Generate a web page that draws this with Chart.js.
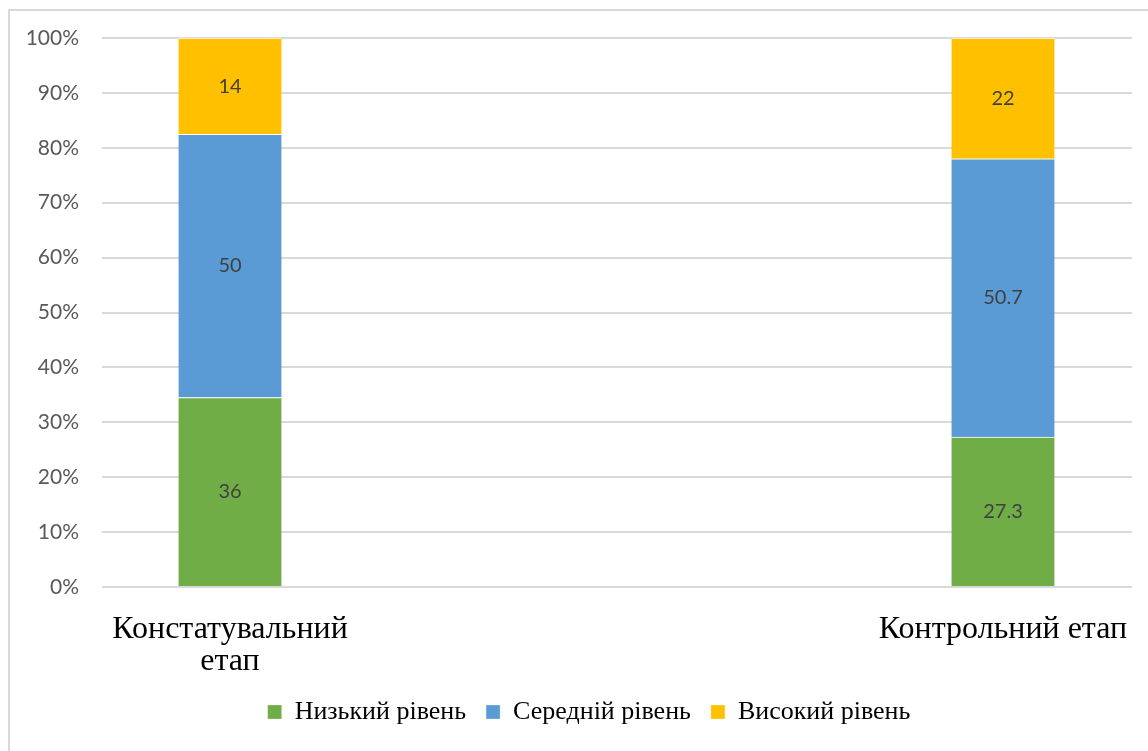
<!DOCTYPE html>
<html>
<head>
<meta charset="utf-8">
<script src="https://cdn.jsdelivr.net/npm/chart.js@4"></script>
<style>
  html, body { margin: 0; padding: 0; background: #fff; }
  #wrap { position: relative; width: 1148px; height: 751px; overflow: hidden; }
  #frame {
    position: absolute; left: 8px; top: 9px; width: 1200px; height: 800px;
    border: 2px solid #d9d9d9; pointer-events: none;
  }
  canvas { position: absolute; left: 0; top: 0; }
</style>
</head>
<body>
<div id="wrap">
  <canvas id="levelsChart" width="1148" height="751"></canvas>
  <div id="frame"></div>
</div>
<script>
// Етапи експерименту та рівні
const stages = [["Констатувальний", "етап"], "Контрольний етап"];
const levelNames = ["Низький рівень", "Середній рівень", "Високий рівень"];
// висота сегментів (як видно на малюнку, 100% нормування)
const lowLevel = [36, 27.3];
const midLevel = [50, 50.7];
const highLevel = [18.3, 22];
// підписи, що надруковані на стовпчиках
const lowText = ["36", "27.3"];
const midText = ["50", "50.7"];
const highText = ["14", "22"];
const levelColors = ["#70AD47", "#5B9BD5", "#FFC000"];
const yTicks = [0, 10, 20, 30, 40, 50, 60, 70, 80, 90, 100];

const allLevels = [lowLevel, midLevel, highLevel];
const allTexts = [lowText, midText, highText];

// Частка кожного рівня у стовпчику (100% stacked)
function toShares(values) {
  return values.map(function (v, i) {
    const total = lowLevel[i] + midLevel[i] + highLevel[i];
    return { x: i, y: (v / total) * 100 };
  });
}

// Підписи значень по центру кожного сегмента
const segmentLabels = {
  id: "segmentLabels",
  afterDatasetsDraw(chart) {
    const ctx = chart.ctx;
    ctx.save();
    ctx.font = "20px Lato";
    ctx.fillStyle = "#404040";
    ctx.textAlign = "center";
    ctx.textBaseline = "middle";
    chart.data.datasets.forEach(function (ds, di) {
      chart.getDatasetMeta(di).data.forEach(function (bar, i) {
        const mid = (bar.y + bar.base) / 2;
        ctx.fillText(allTexts[di][i], bar.x, mid);
      });
    });
    ctx.restore();
  },
};

// Легенду трохи зсуваємо праворуч, як в оригіналі
const legendShift = {
  id: "legendShift",
  afterLayout(chart) {
    if (chart.legend) {
      chart.legend.left += 23;
      chart.legend.right += 23;
    }
  },
};

new Chart(document.getElementById("levelsChart"), {
  type: "bar",
  data: {
    datasets: allLevels.map(function (values, k) {
      return {
        label: levelNames[k],
        data: toShares(values),
        backgroundColor: levelColors[k],
        borderColor: "#ffffff",
        borderWidth: { top: 1, bottom: 0, left: 0, right: 0 },
        borderSkipped: false,
        barThickness: 103,
      };
    }),
  },
  options: {
    responsive: false,
    animation: false,
    layout: { padding: { top: 38, right: 16, bottom: 16, left: 0 } },
    scales: {
      x: {
        type: "linear",
        stacked: true,
        offset: false,
        min: -0.1656,
        max: 1.1669,
        afterBuildTicks(scale) {
          scale.ticks = stages.map(function (s, i) {
            return { value: i };
          });
        },
        afterFit(scale) {
          scale.height = 92;
          scale.paddingLeft = 0;
          scale.paddingRight = 0;
        },
        grid: { display: false, drawTicks: false },
        border: { display: false },
        ticks: {
          autoSkip: false,
          maxRotation: 0,
          padding: 26,
          color: "#000000",
          font: { family: "Liberation Serif", size: 32, lineHeight: 1.02 },
          callback: function (value) {
            return stages[value];
          },
        },
      },
      y: {
        stacked: true,
        min: 0,
        max: 100,
        afterBuildTicks(scale) {
          scale.ticks = yTicks.map(function (v) {
            return { value: v };
          });
        },
        afterFit(scale) {
          scale.width = 102;
        },
        grid: { color: "#d9d9d9", lineWidth: 2, drawTicks: false },
        border: { display: false },
        ticks: {
          padding: 23,
          color: "#595959",
          font: { family: "Lato", size: 21 },
          callback: function (value) {
            return value + "%";
          },
        },
      },
    },
    plugins: {
      legend: {
        position: "bottom",
        labels: {
          boxWidth: 14,
          boxHeight: 14,
          padding: 20,
          color: "#000000",
          font: { family: "Liberation Serif", size: 26 },
        },
      },
      tooltip: { enabled: false },
    },
  },
  plugins: [segmentLabels, legendShift],
});
</script>
</body>
</html>
